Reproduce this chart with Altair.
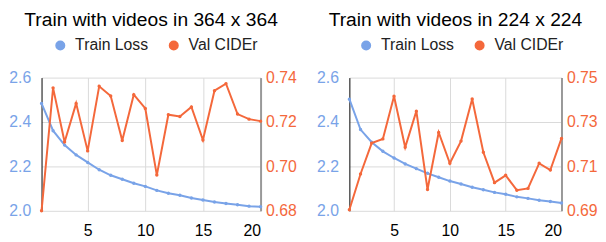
import altair as alt
import pandas as pd

epochs = list(range(1, 21))

loss_364 = [2.484, 2.361, 2.296, 2.252, 2.218, 2.185, 2.160, 2.142, 2.124, 2.110,
            2.092, 2.079, 2.070, 2.058, 2.049, 2.040, 2.033, 2.027, 2.021, 2.018]
cider_364 = [0.680, 0.7354, 0.711, 0.7284, 0.707, 0.7361, 0.7317, 0.7117, 0.7323, 0.7261,
             0.6961, 0.7233, 0.7225, 0.7268, 0.7119, 0.7341, 0.7373, 0.7236, 0.7213, 0.7204]

loss_224 = [2.503, 2.366, 2.309, 2.268, 2.238, 2.211, 2.190, 2.169, 2.151, 2.134,
            2.121, 2.106, 2.095, 2.083, 2.075, 2.063, 2.056, 2.048, 2.042, 2.035]
cider_224 = [0.6905, 0.7066, 0.7205, 0.7224, 0.7416, 0.7186, 0.7349, 0.6996, 0.7253, 0.7114,
             0.7214, 0.7404, 0.7164, 0.7027, 0.7060, 0.6993, 0.7001, 0.7114, 0.7084, 0.7226]

series_names = ["Train Loss", "Val CIDEr"]
BLUE = "#79A3E8"
ORANGE = "#F4683B"
GRID = "#d9d9d9"
FONT = "Liberation Sans"


def panel(title, loss, cider, cdom, cvals, legend_x, width):
    df_l = pd.DataFrame({"epoch": epochs, "value": loss, "series": series_names[0]})
    df_c = pd.DataFrame({"epoch": epochs, "value": cider, "series": series_names[1]})

    x = alt.X("epoch:Q",
              scale=alt.Scale(domain=[1, 20], nice=False, zero=False),
              axis=alt.Axis(values=[5, 10, 15, 20], title=None, grid=True, domain=False,
                            ticks=False, labelPadding=12, labelFontSize=16, labelColor="#000",
                            gridColor=GRID))
    color = alt.Color("series:N",
                      scale=alt.Scale(domain=series_names, range=[BLUE, ORANGE]),
                      legend=alt.Legend(title=None, orient="none", direction="horizontal",
                                        legendX=legend_x, legendY=-40.5, symbolType="circle",
                                        symbolSize=75, labelFontSize=16, labelColor="#222",
                                        columnPadding=17, labelOffset=7, padding=0))

    y_l = alt.Y("value:Q",
                scale=alt.Scale(domain=[2.0, 2.6], nice=False, zero=False),
                axis=alt.Axis(values=[2.0, 2.2, 2.4, 2.6], format=".1f", title=None,
                              labelColor=BLUE, labelFontSize=16, ticks=False, labelPadding=11,
                              domainColor="#000", grid=True, gridColor=GRID))
    y_c = alt.Y("value:Q",
                scale=alt.Scale(domain=cdom, nice=False, zero=False),
                axis=alt.Axis(values=cvals, format=".2f", title=None, orient="right",
                              labelColor=ORANGE, labelFontSize=16, ticks=False, labelPadding=5,
                              domainColor="#999", domainWidth=2, grid=False))

    bl = alt.Chart(df_l)
    loss_layer = alt.layer(
        bl.mark_circle(size=12, opacity=1).encode(x=x, y=y_l, color=color),
        bl.mark_line(strokeWidth=2).encode(x=x, y=y_l, color=color),
    )
    bc = alt.Chart(df_c)
    cider_layer = alt.layer(
        bc.mark_circle(size=12, opacity=1).encode(x=x, y=y_c, color=color),
        bc.mark_line(strokeWidth=2).encode(x=x, y=y_c, color=color),
    )
    return alt.layer(loss_layer, cider_layer).resolve_scale(y="independent").properties(
        width=width, height=135,
        title=alt.TitleParams(title, fontSize=19.5, fontWeight="normal", color="#000",
                              anchor="middle", offset=7.5),
    )


left = panel("Train with videos in 364 x 364", loss_364, cider_364,
             [0.68, 0.74], [0.68, 0.70, 0.72, 0.74], 11, 222)
right = panel("Train with videos in 224 x 224", loss_224, cider_224,
              [0.69, 0.75], [0.69, 0.71, 0.73, 0.75], 9, 215)

chart = (
    alt.hconcat(left, right, spacing=19)
    .resolve_scale(color="independent")
    .resolve_legend(color="independent")
    .properties(padding=0)
    .configure(font=FONT)
    .configure_view(stroke=None)
)

chart.save("out.html", embed_options={"renderer": "svg", "actions": False})
